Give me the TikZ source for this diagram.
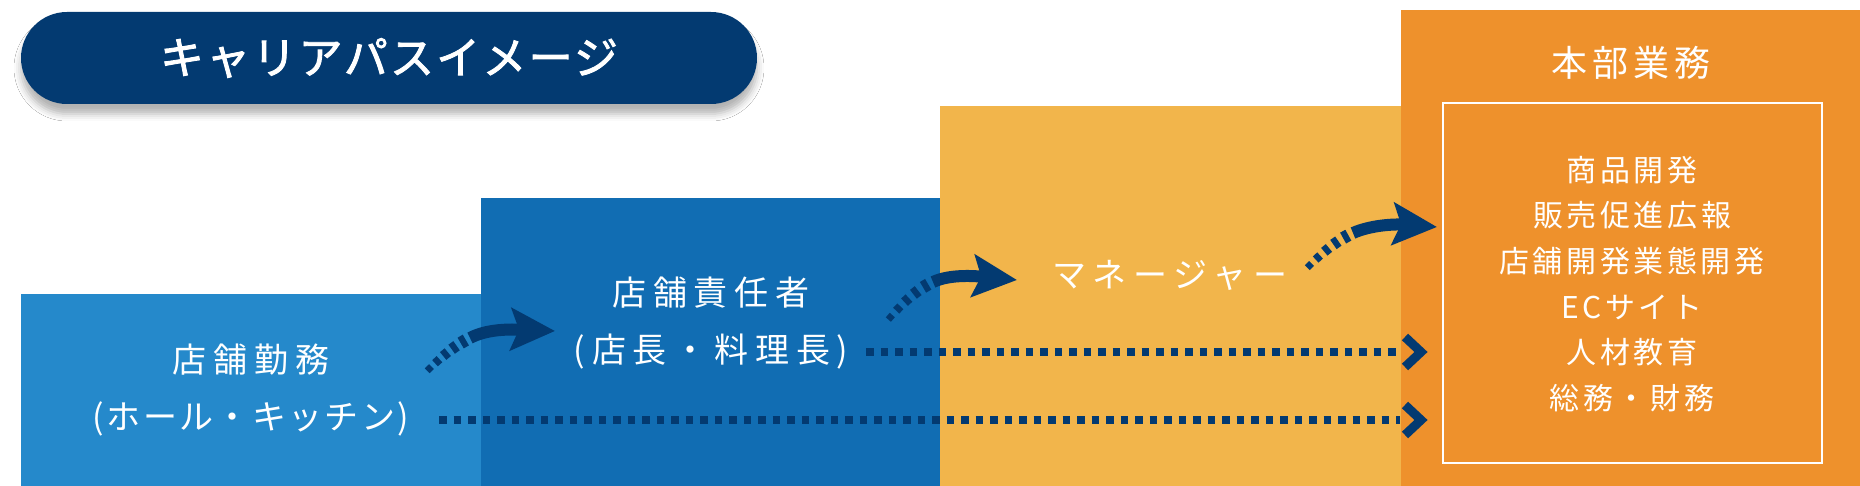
\documentclass[tikz,border=0pt]{standalone}
\usepackage{fontspec}
\setmainfont{Noto Sans CJK JP}
\newfontfamily\jpfont{Noto Sans CJK JP}
\newfontfamily\jptitlefont{Noto Sans CJK JP}[FakeBold=2]
\usetikzlibrary{arrows.meta,shadows.blur,decorations.markings}
\definecolor{navy}{HTML}{033A71}
\definecolor{blkone}{HTML}{2589CB}
\definecolor{blktwo}{HTML}{116DB3}
\definecolor{blkthree}{HTML}{F2B54B}
\definecolor{blkfour}{HTML}{EE912C}
\newcommand\bodyfnt{\jpfont\fontsize{17pt}{28.5pt}\selectfont\addfontfeature{LetterSpace=20}}
\newcommand\kanafnt{\addfontfeature{LetterSpace=7}}
\newcommand\headfnt{\jpfont\fontsize{18pt}{20pt}\selectfont\addfontfeature{LetterSpace=14}}
\newcommand\listfnt{\jpfont\fontsize{15pt}{22.8pt}\selectfont\addfontfeature{LetterSpace=12}}
\newcommand\titlefnt{\jptitlefont\fontsize{22pt}{26pt}\selectfont\addfontfeature{LetterSpace=5}}
\newcommand\dmark[1]{\fill[navy] (-1.5pt,-#1) rectangle (1.5pt,#1);}
\begin{document}
\begin{tikzpicture}[x=0.5pt,y=-0.5pt,
  bodytext/.style={text=white,align=center,inner sep=0pt,font=\bodyfnt},
  pill/.style={fill=navy,text=white,minimum width=368pt,minimum height=46pt,
    rounded corners=23pt,inner sep=0pt,font=\titlefnt,
    blur shadow={shadow xshift=0pt,shadow yshift=-5pt,shadow blur radius=3.5pt,shadow opacity=30}},
  taper/.style={postaction={decorate},decoration={markings,
    mark=at position 0.06 with {\dmark{1.7pt}},
    mark=at position 0.26 with {\dmark{2.1pt}},
    mark=at position 0.46 with {\dmark{2.5pt}},
    mark=at position 0.66 with {\dmark{2.8pt}},
    mark=at position 0.86 with {\dmark{3.1pt}}}},
  solidarrow/.style={draw=navy,line width=6pt,
    -{Stealth[length=22pt,width=21pt,inset=4pt,fill=navy]}},
  dotline/.style={draw=navy,line width=3.8pt,dash pattern=on 3.8pt off 3.45pt},
  chev/.style={draw=navy,line width=4.5pt,miter limit=4}]
\useasboundingbox (0,0) rectangle (1860,486);
\fill[white] (0,0) rectangle (1860,486);
% blocks
\fill[blkone] (21,294) rectangle (481,486);
\fill[blktwo] (481,198) rectangle (940,486);
\fill[blkthree] (940,106) rectangle (1401,486);
\fill[blkfour] (1401,10) rectangle (1860,486);
\draw[white,line width=1pt] (1443,103) rectangle (1822,463);
% title
\node[pill] (title) at (389,58) {キャリアパスイメージ};
% texts
\node[bodytext] (t1) at (251,390) {店舗勤務\\{\kanafnt(ホール・キッチン)}};
\node[bodytext] (t2) at (711,323) {店舗責任者\\(店長・料理長)};
\node[bodytext] (t3) at (1170,275) {マネージャー};
\node[text=white,inner sep=0pt,font=\headfnt] (hq) at (1631,63) {本部業務};
\node[text=white,inner sep=0pt,align=center,font=\listfnt] (list) at (1632,284)
  {商品開発\\販売促進広報\\店舗開発業態開発\\ECサイト\\人材教育\\総務・財務};
% arrow coordinates
\coordinate (a1s) at (427,371); \coordinate (a1m) at (470,338); \coordinate (a1t) at (555,331);
\coordinate (a2s) at (888,320); \coordinate (a2m) at (933,282); \coordinate (a2t) at (1017,280);
\coordinate (a3s) at (1307,268); \coordinate (a3m) at (1353,233); \coordinate (a3t) at (1437,227);
% curved arrows
\path[taper] (a1s) .. controls (440,358) and (455,345) .. (a1m);
\draw[solidarrow] (a1m) .. controls (485,330) and (505,329) .. (a1t);
\path[taper] (a2s) .. controls (900,306) and (915,290) .. (a2m);
\draw[solidarrow] (a2m) .. controls (950,274) and (975,276) .. (a2t);
\path[taper] (a3s) .. controls (1320,255) and (1335,241) .. (a3m);
\draw[solidarrow] (a3m) .. controls (1371,225) and (1395,224) .. (a3t);
% dotted lines with chevrons
\coordinate (d1s) at (866,352); \coordinate (d1e) at (1400,352); \coordinate (c1) at (1421,352);
\coordinate (d2s) at (439,420); \coordinate (d2e) at (1400,420); \coordinate (c2) at (1421,420);
\draw[dotline] (d1s) -- (d1e);
\draw[dotline] (d2s) -- (d2e);
\draw[chev] (c1) ++(-16,-15) -- (c1) -- ++(-16,15);
\draw[chev] (c2) ++(-16,-15) -- (c2) -- ++(-16,15);
\end{tikzpicture}
\end{document}
